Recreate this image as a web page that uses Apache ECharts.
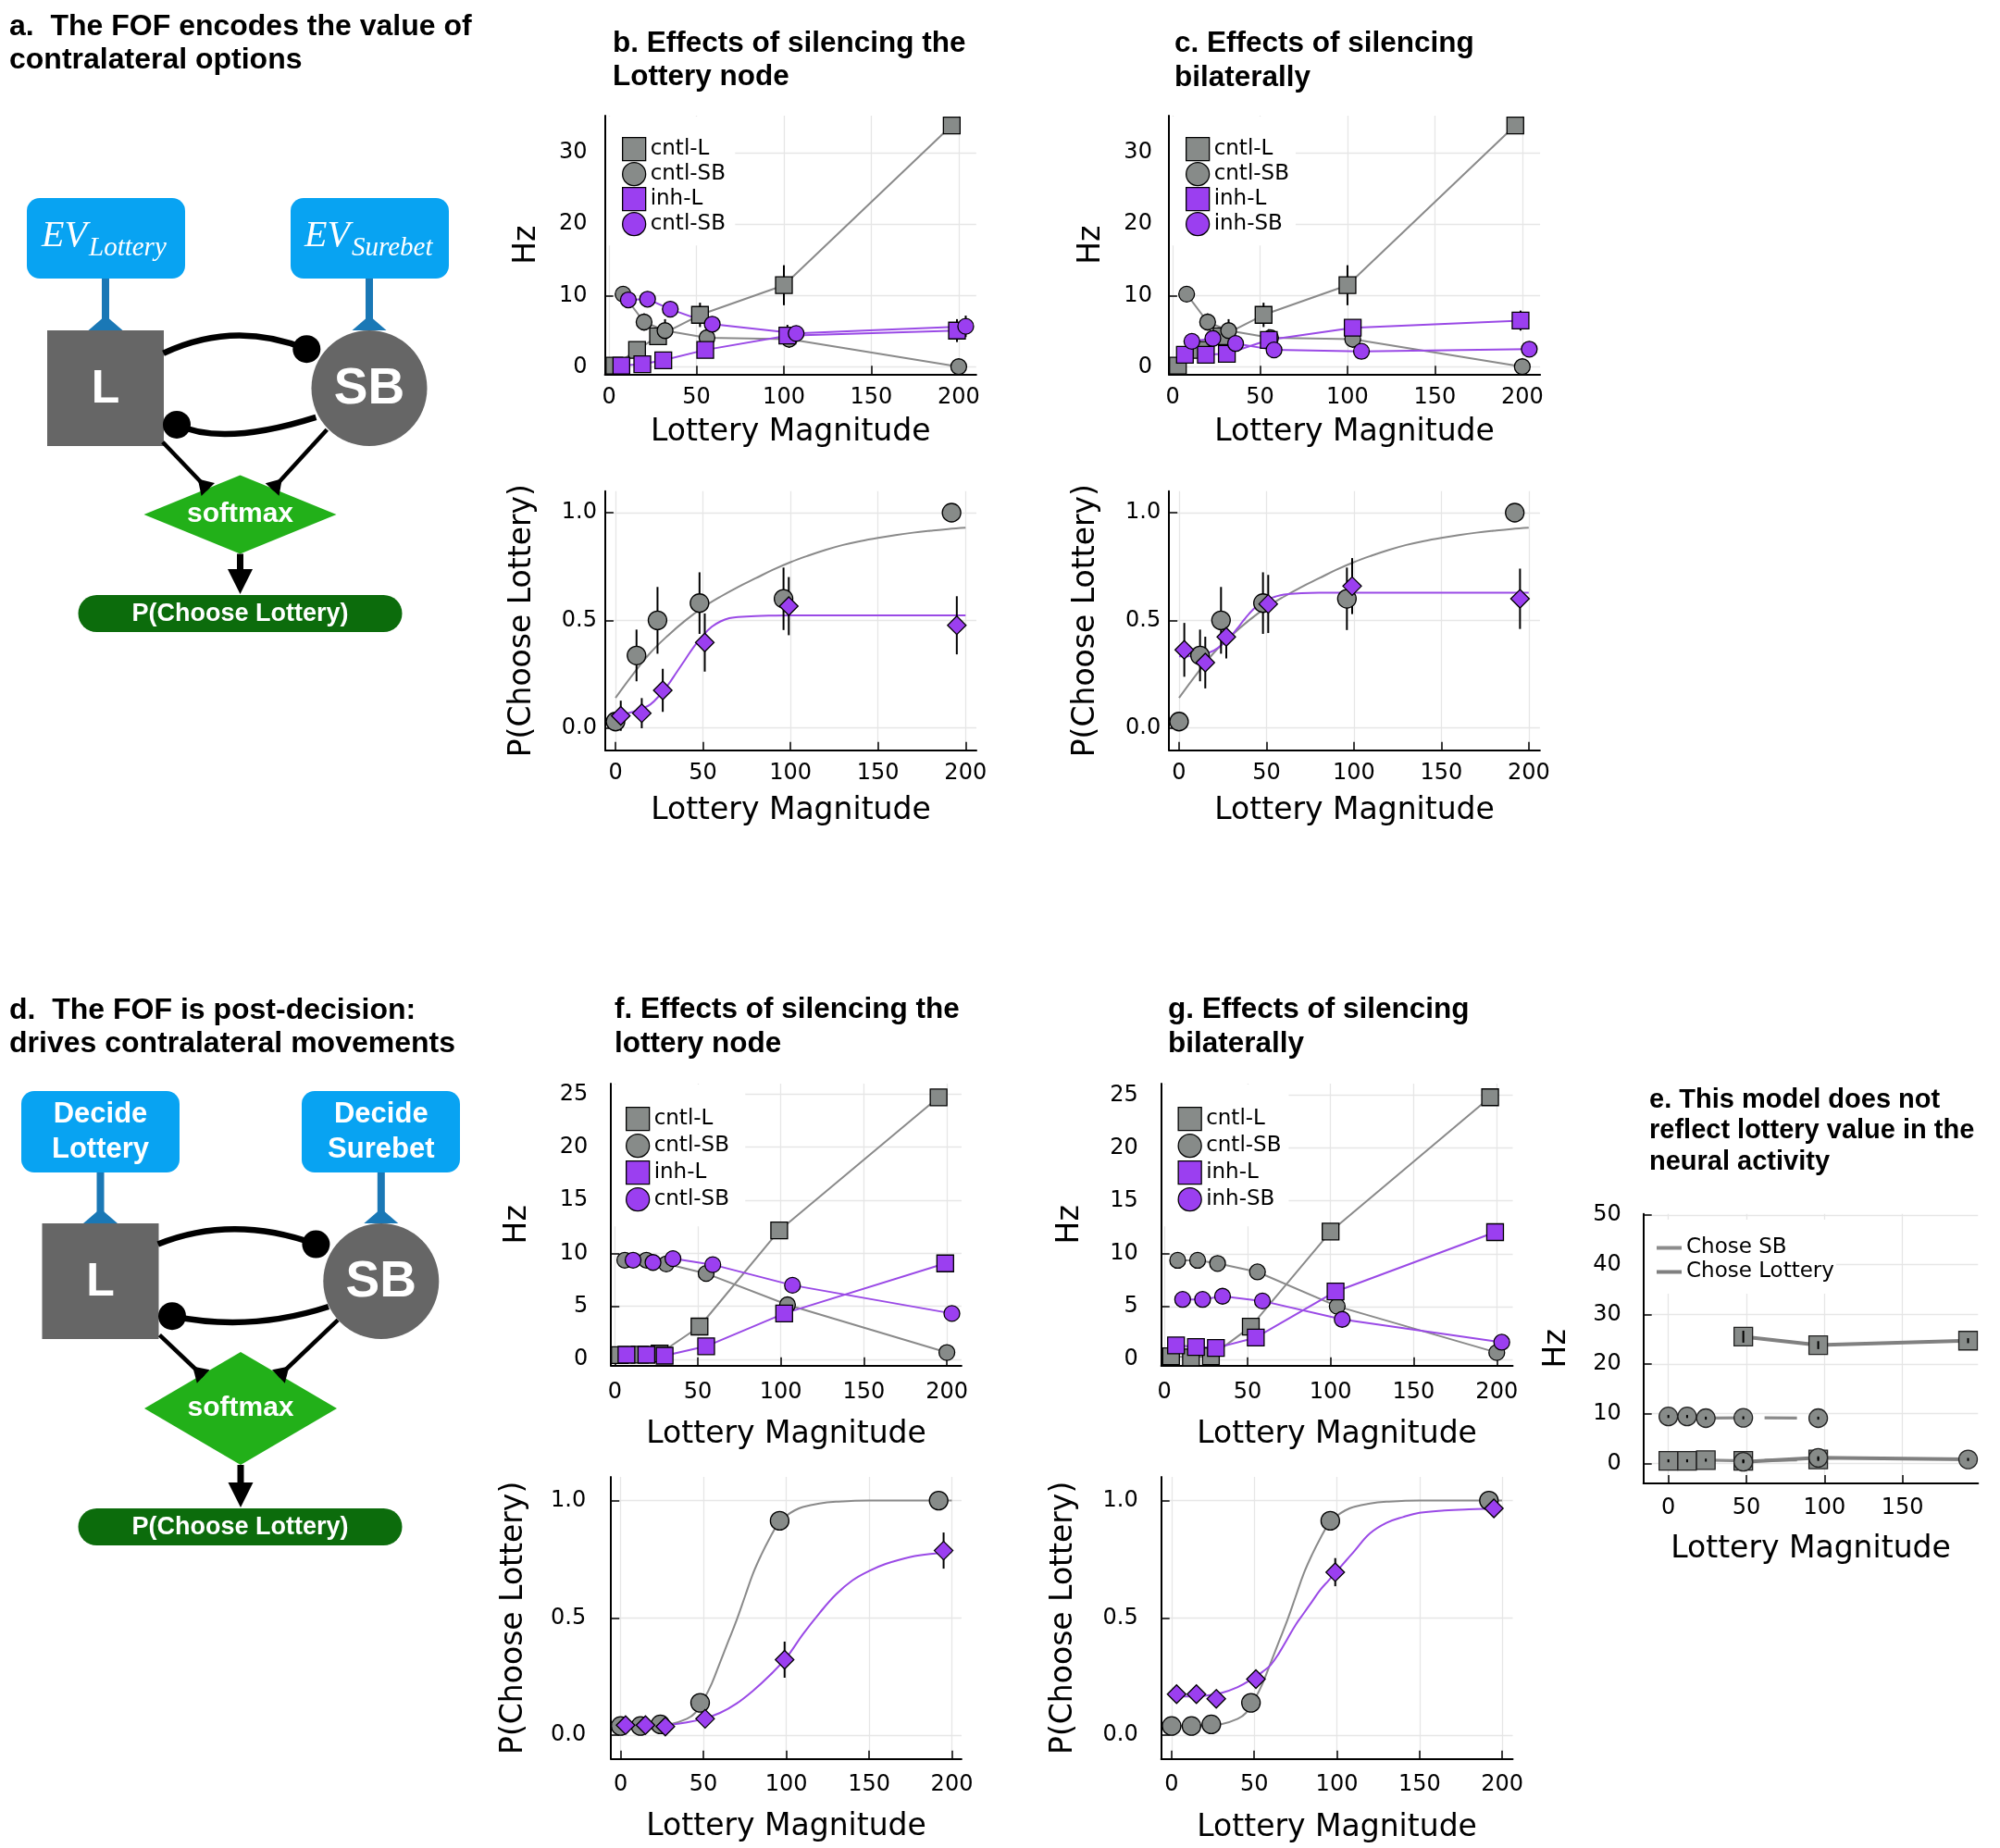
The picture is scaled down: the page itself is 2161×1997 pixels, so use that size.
<!DOCTYPE html>
<html><head><meta charset="utf-8">
<script src="https://cdn.jsdelivr.net/npm/echarts@6/dist/echarts.min.js"></script>
<style>html,body{margin:0;padding:0;background:#fff}#c{width:2161px;height:1997px}</style>
</head><body><div id="c"></div>
<script>
// ================= DATA =================
// tick labels
const hzTicksB = [0, 10, 20, 30];
const hzTicksF = [0, 5, 10, 15, 20, 25];
const hzTicksE = [0, 10, 20, 30, 40, 50];
const pTicks = [0, 0.5, 1.0];
const magTicks = [0, 50, 100, 150, 200];
const magTicksE = [0, 50, 100, 150];

// Panel b / c (top): firing rates, control (shared by b and c)
const b_cntlL_x = [3, 16, 28, 52, 100, 196];
const b_cntlL_y = [0.2, 2.4, 4.3, 7.3, 11.45, 33.8];
const b_cntlL_e = [0.3, 0.5, 0.6, 1.7, 2.8, 0.5];
const b_cntlSB_x = [8, 20, 32, 56, 103, 200];
const b_cntlSB_y = [10.2, 6.3, 5.1, 4.1, 3.9, 0.05];
const b_cntlSB_e = [0.3, 1.2, 1.6, 0.8, 1.2, 0.2];
// Panel b: silencing the Lottery node
const b_inhL_x = [7, 19, 31, 55, 102, 199];
const b_inhL_y = [0.2, 0.4, 0.95, 2.4, 4.4, 5.1];
const b_inhL_e = [0.2, 0.3, 0.4, 0.6, 1.5, 1.6];
const b_inhSB_x = [11, 22, 35, 59, 107, 204];
const b_inhSB_y = [9.4, 9.5, 8.1, 6.0, 4.7, 5.7];
const b_inhSB_e = [0.4, 0.5, 0.5, 1.0, 1.0, 1.5];
// Panel c: bilateral silencing
const c_inhL_x = [7, 19, 31, 55, 103, 199];
const c_inhL_y = [1.73, 1.73, 1.86, 3.8, 5.5, 6.5];
const c_inhL_e = [0.3, 0.3, 0.4, 1.5, 0.8, 1.4];
const c_inhSB_x = [11, 23, 36, 58, 108, 204];
const c_inhSB_y = [3.6, 4.0, 3.3, 2.4, 2.2, 2.5];
const c_inhSB_e = [0.3, 0.3, 0.4, 1.0, 0.4, 0.4];

// Panel b / c (bottom): P(Choose Lottery)
const pb_cntl_x = [0, 12, 24, 48, 96, 192];
const pb_cntl_y = [0.03, 0.337, 0.5, 0.58, 0.60, 1.0];
const pb_cntl_e = [0.03, 0.12, 0.155, 0.143, 0.145, 0];
const pb_inh_x = [3, 15, 27, 51, 99, 195];
const pb_inh_y = [0.057, 0.069, 0.175, 0.397, 0.566, 0.477];
const pb_inh_e = [0.07, 0.07, 0.1, 0.135, 0.135, 0.135];
const pc_inh_y = [0.363, 0.304, 0.423, 0.576, 0.659, 0.60];
const pc_inh_e = [0.125, 0.12, 0.10, 0.135, 0.13, 0.14];
// fitted curves
const fitB_cntl_x = [0, 10, 20, 30, 40, 50, 60, 70, 80, 90, 100, 110, 120, 130, 140, 150, 160, 170, 180, 190, 200];
const fitB_cntl_y = [0.14, 0.25, 0.35, 0.43, 0.50, 0.56, 0.61, 0.655, 0.695, 0.735, 0.77, 0.80, 0.827, 0.85, 0.868, 0.883, 0.896, 0.907, 0.916, 0.924, 0.93];
const fitB_inh_x = [0, 5, 10, 15, 20, 25, 30, 35, 40, 45, 50, 55, 60, 65, 70, 80, 90, 100, 150, 200];
const fitB_inh_y = [0.05, 0.065, 0.075, 0.09, 0.11, 0.15, 0.20, 0.26, 0.32, 0.38, 0.43, 0.47, 0.495, 0.51, 0.515, 0.52, 0.522, 0.523, 0.523, 0.523];
const fitC_inh_x = [0, 5, 10, 15, 20, 25, 30, 35, 40, 45, 50, 55, 60, 70, 80, 100, 150, 200];
const fitC_inh_y = [0.333, 0.333, 0.337, 0.345, 0.36, 0.39, 0.43, 0.48, 0.53, 0.57, 0.595, 0.61, 0.62, 0.626, 0.628, 0.628, 0.628, 0.628];

// Panel f (top): silencing lottery node, post-decision model
const f_cntlL_x = [3, 15, 27, 51, 99, 195];
const f_cntlL_y = [0.4, 0.45, 0.55, 3.1, 12.15, 24.7];
const f_cntlSB_x = [6, 19, 31, 55, 104, 200];
const f_cntlSB_y = [9.35, 9.35, 9.0, 8.1, 5.15, 0.65];
const f_inhL_x = [7, 19, 30, 55, 102, 199];
const f_inhL_y = [0.44, 0.44, 0.35, 1.24, 4.33, 9.05];
const f_inhSB_x = [11, 23, 35, 59, 107, 203];
const f_inhSB_y = [9.35, 9.14, 9.5, 8.93, 6.99, 4.33];
// Panel g (top): bilateral
const g_cntlL_x = [4, 16, 28, 52, 100, 196];
const g_cntlL_y = [0.3, 0.2, 0.3, 3.1, 12.1, 24.8];
const g_cntlSB_x = [8, 20, 32, 56, 104, 200];
const g_cntlSB_y = [9.38, 9.38, 9.08, 8.28, 5.03, 0.65];
const g_inhL_x = [7, 19, 31, 55, 103, 199];
const g_inhL_y = [1.33, 1.18, 1.09, 2.07, 6.42, 12.04];
const g_inhSB_x = [11, 23, 35, 59, 107, 203];
const g_inhSB_y = [5.68, 5.68, 5.98, 5.53, 3.79, 1.63];

// Panel f / g (bottom)
const pf_cntl_x = [0, 12, 24, 48, 96, 192];
const pf_cntl_y = [0.039, 0.039, 0.046, 0.138, 0.914, 1.0];
const pf_inh_x = [3, 15, 27, 51, 99, 195];
const pf_inh_y = [0.043, 0.043, 0.037, 0.07, 0.322, 0.787];
const pf_inh_e = [0, 0, 0, 0, 0.077, 0.077];
const pg_inh_y = [0.175, 0.175, 0.155, 0.239, 0.695, 0.967];
const pg_inh_e = [0, 0, 0, 0, 0.06, 0.01];
const fitF_cntl_x = [0, 10, 20, 30, 40, 45, 50, 55, 60, 65, 70, 75, 80, 85, 90, 95, 100, 105, 110, 120, 130, 150, 175, 200];
const fitF_cntl_y = [0.04, 0.04, 0.042, 0.047, 0.07, 0.095, 0.15, 0.22, 0.31, 0.40, 0.49, 0.59, 0.69, 0.77, 0.84, 0.90, 0.935, 0.958, 0.973, 0.988, 0.995, 1.0, 1.0, 1.0];
const fitF_inh_x = [0, 10, 20, 30, 40, 50, 60, 70, 80, 90, 100, 110, 120, 130, 140, 150, 160, 175, 190, 200];
const fitF_inh_y = [0.04, 0.04, 0.042, 0.045, 0.055, 0.07, 0.095, 0.135, 0.19, 0.255, 0.33, 0.43, 0.52, 0.6, 0.66, 0.70, 0.73, 0.76, 0.775, 0.78];
const fitG_inh_x = [0, 10, 20, 30, 40, 50, 55, 60, 65, 70, 75, 80, 85, 90, 95, 100, 105, 110, 120, 130, 140, 150, 165, 180, 200];
const fitG_inh_y = [0.17, 0.165, 0.168, 0.18, 0.205, 0.245, 0.27, 0.30, 0.35, 0.41, 0.47, 0.52, 0.57, 0.62, 0.66, 0.70, 0.74, 0.78, 0.86, 0.905, 0.93, 0.948, 0.958, 0.963, 0.967];

// Panel e
const e_x1 = [0, 12, 24, 48, 96];
const e_L_choseSB = [0.53, 0.53, 0.66, 0.53, 0.8];
const e_SB_choseSB = [9.44, 9.44, 9.11, 9.18, 9.11];
const e_x2 = [48, 96, 192];
const e_L_choseL = [25.5, 23.8, 24.7];
const e_L_choseL_e = [1.2, 0.8, 0.5];
const e_SB_choseL = [0.33, 1.13, 0.8];

// ================= STYLE =================
const FONT = '"DejaVu Sans", sans-serif';
const TFONT = '"Liberation Sans", Arial, sans-serif';
const GRAY_FILL = '#878b89', GRAY_LINE = '#8a8a8a';
const PURP_FILL = '#9b3ff0', PURP_LINE = '#9a4ae6';
const GRID_C = '#e6e6e6';
const NAME_FS = 33, TICK_FS = 24;

const grids = [], xAxes = [], yAxes = [], series = [], legends = [];
const pair = (xs, ys) => xs.map((x, i) => [x, ys[i]]);

function addPanel(c) {
  const gi = grids.length;
  grids.push({left: c.g[0], top: c.g[1], width: c.g[2], height: c.g[3]});
  const common = {
    type: 'value', gridIndex: gi, nameLocation: 'middle',
    nameTextStyle: {fontSize: NAME_FS, fontFamily: FONT, color: '#000'},
    axisLine: {show: true, onZero: false, lineStyle: {color: '#000', width: 2}},
    splitLine: {show: true, lineStyle: {color: GRID_C, width: 1.3}},
  };
  xAxes.push(Object.assign({}, common, {
    min: c.x[0], max: c.x[1], name: 'Lottery Magnitude', nameGap: c.xg,
    axisTick: {show: true, inside: true, length: 9, customValues: c.xt, lineStyle: {color: '#000', width: 1.5}},
    axisLabel: {show: true, customValues: c.xt, margin: c.xm, fontSize: TICK_FS, fontFamily: FONT, color: '#000'}
  }));
  yAxes.push(Object.assign({}, common, {
    min: c.y[0], max: c.y[1], name: c.yn, nameGap: c.yg,
    axisTick: {show: true, inside: true, length: 9, customValues: c.yt, lineStyle: {color: '#000', width: 1.5}},
    axisLabel: {show: true, customValues: c.yt, margin: c.ym, fontSize: TICK_FS, fontFamily: FONT, color: '#000',
      formatter: c.yf || (v => String(v))}
  }));
  return gi;
}

function errSer(gi, xs, ys, es, z) {
  const d = [];
  xs.forEach((x, i) => { if (es[i] > 0) d.push([x, ys[i] - es[i], ys[i] + es[i]]); });
  return {
    type: 'custom', xAxisIndex: gi, yAxisIndex: gi, z: z || 1, silent: true, animation: false,
    data: d, encode: {x: 0, y: [1, 2]},
    renderItem: (params, api) => {
      const p1 = api.coord([api.value(0), api.value(1)]);
      const p2 = api.coord([api.value(0), api.value(2)]);
      return {type: 'line', shape: {x1: p1[0], y1: p1[1], x2: p2[0], y2: p2[1]},
        style: {stroke: '#000', lineWidth: 2}};
    }
  };
}
function lineSer(name, gi, xs, ys, sym, size, fill, lc, extra) {
  return Object.assign({
    type: 'line', name, xAxisIndex: gi, yAxisIndex: gi, data: pair(xs, ys),
    symbol: sym, symbolSize: size, showAllSymbol: true, animation: false, z: 2,
    emphasis: {disabled: true}, silent: true,
    itemStyle: {color: fill, borderColor: '#000', borderWidth: 1.3},
    lineStyle: {color: lc, width: 2}
  }, extra || {});
}
function fitSer(gi, xs, ys, lc) {
  return {type: 'line', xAxisIndex: gi, yAxisIndex: gi, data: pair(xs, ys), smooth: 0.4,
    symbol: 'none', animation: false, silent: true, z: 2, lineStyle: {color: lc, width: 2}};
}
function ptSer(gi, xs, ys, sym, size, fill) {
  return {type: 'scatter', xAxisIndex: gi, yAxisIndex: gi, data: pair(xs, ys), symbol: sym,
    symbolSize: size, animation: false, silent: true, z: 4,
    itemStyle: {color: fill, borderColor: '#000', borderWidth: 1.3, opacity: 1}};
}
function legItem(name, icon, fill) {
  return {name, icon, itemStyle: {color: fill, borderColor: '#000', borderWidth: 1.3}};
}
function addLegend(left, top, padding, gap, items) {
  legends.push({orient: 'vertical', left, top, padding, itemGap: gap, itemWidth: 25, itemHeight: 25,
    backgroundColor: '#fff', selectedMode: false, align: 'left', z: 5,
    textStyle: {fontSize: 23, fontFamily: FONT, color: '#000'}, data: items});
}
const pFmt = v => v.toFixed(1);

// ---------- Hz panels ----------
function hzPanel(g, x, y, yt, yn, xg, yg, xm, ym, sets, legPos) {
  const gi = addPanel({g, x, y, xt: magTicks, yt, yn, xg, yg, xm, ym});
  sets.forEach(s => { if (s.e) series.push(errSer(gi, s.x, s.y, s.e, 1)); });
  sets.forEach(s => series.push(lineSer(s.name, gi, s.x, s.y, s.sym, s.sym === 'rect' ? 18 : 17, s.fill, s.lc)));
  addLegend(legPos[0], legPos[1], legPos[2], legPos[3], sets.map(s => legItem(s.name, s.sym, s.fill)));
}
const cL = (x, y, e) => ({name: 'cntl-L', x, y, e, sym: 'rect', fill: GRAY_FILL, lc: GRAY_LINE});
const cSB = (x, y, e) => ({name: 'cntl-SB', x, y, e, sym: 'circle', fill: GRAY_FILL, lc: GRAY_LINE});
const iL = (x, y, e) => ({name: 'inh-L', x, y, e, sym: 'rect', fill: PURP_FILL, lc: PURP_LINE});
const iSB = (name, x, y, e) => ({name, x, y, e, sym: 'circle', fill: PURP_FILL, lc: PURP_LINE});

// b top
hzPanel([653.6, 125, 401.2, 279.3], [-2.4, 210], [-0.99, 35.17], hzTicksB, 'Hz', 47, 68, 13, 19,
  [cL(b_cntlL_x, b_cntlL_y, b_cntlL_e), cSB(b_cntlSB_x, b_cntlSB_y, b_cntlSB_e),
   iL(b_inhL_x, b_inhL_y, b_inhL_e), iSB('cntl-SB\u00a0', b_inhSB_x, b_inhSB_y, b_inhSB_e)],
  [655, 126, [22, 3, 10, 17], 0.7]);
// b bottom
(function () {
  const gi = addPanel({g: [653.9, 530.7, 401.1, 280], x: [-5.9, 206.2], y: [-0.103, 1.1], xt: magTicks, yt: pTicks,
    yn: 'P(Choose Lottery)', xg: 49, yg: 73, xm: 13, ym: 9, yf: pFmt});
  series.push(fitSer(gi, fitB_cntl_x, fitB_cntl_y, GRAY_LINE), fitSer(gi, fitB_inh_x, fitB_inh_y, PURP_LINE));
  series.push(errSer(gi, pb_cntl_x, pb_cntl_y, pb_cntl_e, 3), errSer(gi, pb_inh_x, pb_inh_y, pb_inh_e, 3));
  series.push(ptSer(gi, pb_cntl_x, pb_cntl_y, 'circle', 20, GRAY_FILL), ptSer(gi, pb_inh_x, pb_inh_y, 'diamond', 20, PURP_FILL));
})();
// c top
hzPanel([1262.9, 125, 401.2, 279.3], [-2.2, 210.2], [-0.99, 35.17], hzTicksB, 'Hz', 47, 67, 13, 18,
  [cL(b_cntlL_x, b_cntlL_y, b_cntlL_e), cSB(b_cntlSB_x, b_cntlSB_y, b_cntlSB_e),
   iL(c_inhL_x, c_inhL_y, c_inhL_e), iSB('inh-SB', c_inhSB_x, c_inhSB_y, c_inhSB_e)],
  [1264, 126, [22, 7, 10, 17], 0.7]);
// c bottom
(function () {
  const gi = addPanel({g: [1263.2, 530.7, 400.7, 280], x: [-5.7, 206.4], y: [-0.103, 1.1], xt: magTicks, yt: pTicks,
    yn: 'P(Choose Lottery)', xg: 49, yg: 73, xm: 13, ym: 9, yf: pFmt});
  series.push(fitSer(gi, fitB_cntl_x, fitB_cntl_y, GRAY_LINE), fitSer(gi, fitC_inh_x, fitC_inh_y, PURP_LINE));
  series.push(errSer(gi, pb_cntl_x, pb_cntl_y, pb_cntl_e, 3), errSer(gi, pb_inh_x, pc_inh_y, pc_inh_e, 3));
  series.push(ptSer(gi, pb_cntl_x, pb_cntl_y, 'circle', 20, GRAY_FILL), ptSer(gi, pb_inh_x, pc_inh_y, 'diamond', 20, PURP_FILL));
})();
// f top
hzPanel([660.2, 1170.9, 378.7, 304.9], [-2.3, 208.8], [-0.59, 26.0], hzTicksF, 'Hz', 58, 84, 17, 25,
  [cL(f_cntlL_x, f_cntlL_y), cSB(f_cntlSB_x, f_cntlSB_y), iL(f_inhL_x, f_inhL_y), iSB('cntl-SB\u00a0', f_inhSB_x, f_inhSB_y)],
  [661, 1172, [24, 10, 16, 15], 2.7]);
// f bottom
(function () {
  const gi = addPanel({g: [660.2, 1596, 378.7, 304.7], x: [-5.8, 205.8], y: [-0.101, 1.101], xt: magTicks, yt: pTicks,
    yn: 'P(Choose Lottery)', xg: 57, yg: 88, xm: 16, ym: 27, yf: pFmt});
  series.push(fitSer(gi, fitF_cntl_x, fitF_cntl_y, GRAY_LINE), fitSer(gi, fitF_inh_x, fitF_inh_y, PURP_LINE));
  series.push(errSer(gi, pf_inh_x, pf_inh_y, pf_inh_e, 3));
  series.push(ptSer(gi, pf_cntl_x, pf_cntl_y, 'circle', 20, GRAY_FILL), ptSer(gi, pf_inh_x, pf_inh_y, 'diamond', 20, PURP_FILL));
})();
// g top
hzPanel([1254.7, 1170.9, 379.8, 304.9], [-1.9, 209.6], [-0.59, 26.1], hzTicksF, 'Hz', 58, 82, 17, 25,
  [cL(g_cntlL_x, g_cntlL_y), cSB(g_cntlSB_x, g_cntlSB_y), iL(g_inhL_x, g_inhL_y), iSB('inh-SB', g_inhSB_x, g_inhSB_y)],
  [1256, 1172, [24, 8, 16, 16.5], 2.7]);
// g bottom
(function () {
  const gi = addPanel({g: [1254.7, 1596, 379.8, 304.7], x: [-6.3, 206.4], y: [-0.101, 1.101], xt: magTicks, yt: pTicks,
    yn: 'P(Choose Lottery)', xg: 58, yg: 89, xm: 16, ym: 25, yf: pFmt});
  series.push(fitSer(gi, fitF_cntl_x, fitF_cntl_y, GRAY_LINE), fitSer(gi, fitG_inh_x, fitG_inh_y, PURP_LINE));
  series.push(errSer(gi, pf_inh_x, pg_inh_y, pg_inh_e, 3));
  series.push(ptSer(gi, pf_cntl_x, pf_cntl_y, 'circle', 20, GRAY_FILL), ptSer(gi, pf_inh_x, pg_inh_y, 'diamond', 20, PURP_FILL));
})();
// e
(function () {
  const gi = addPanel({g: [1775.7, 1311.8, 361.6, 291.1], x: [-16, 198.4], y: [-4, 50.2], xt: magTicksE, yt: hzTicksE,
    yn: 'Hz', xg: 55, yg: 77, xm: 15, ym: 24});
  const dashed = {color: '#8a8a8a', width: 3.2, type: [35, 23], dashOffset: 12};
  const solid = {color: '#808080', width: 4};
  const eStyle = {color: GRAY_FILL, borderColor: '#222', borderWidth: 1.3};
  series.push(lineSer('Chose SB', gi, e_x1, e_L_choseSB, 'rect', 20, GRAY_FILL, '#8a8a8a', {lineStyle: dashed, itemStyle: eStyle}));
  series.push(lineSer('Chose Lottery', gi, e_x2, e_L_choseL, 'rect', 20, GRAY_FILL, '#808080', {lineStyle: solid, itemStyle: eStyle}));
  series.push(lineSer('Chose SB', gi, e_x1, e_SB_choseSB, 'circle', 20, GRAY_FILL, '#8a8a8a', {lineStyle: dashed, itemStyle: eStyle}));
  series.push(lineSer('Chose Lottery', gi, e_x2, e_SB_choseL, 'circle', 20, GRAY_FILL, '#808080', {lineStyle: solid, itemStyle: eStyle}));
  series.push(errSer(gi, e_x2, e_L_choseL, e_L_choseL_e, 6));
  series.push(errSer(gi, e_x1, e_SB_choseSB, e_x1.map(() => 0.3), 6));
  series.push(errSer(gi, e_x1, e_L_choseSB, e_x1.map(() => 0.3), 6));
  series.push(errSer(gi, e_x2, e_SB_choseL, e_x2.map(() => 0.3), 6));
  legends.push({orient: 'vertical', left: 1777, top: 1318, padding: [19, 2, 12, 13], itemGap: 3,
    itemWidth: 27, itemHeight: 4, backgroundColor: '#fff', selectedMode: false, align: 'left', z: 5,
    textStyle: {fontSize: 23, fontFamily: FONT, color: '#000'},
    data: [{name: 'Chose SB', icon: 'rect', itemStyle: {color: '#8c8c8c', borderWidth: 0}},
           {name: 'Chose Lottery', icon: 'rect', itemStyle: {color: '#7f7f7f', borderWidth: 0}}]});
})();

// ================= DIAGRAMS & TITLES =================
const G = [];
function txt(x, y, text, font, fill, align) {
  G.push({type: 'text', x, y, z: 50, silent: true,
    style: {text, font, fill: fill || '#000', textAlign: align || 'left', textVerticalAlign: 'middle'}});
}
function flare(x1, y1, x2, y2, w, h, color) {
  const dx = x2 - x1, dy = y2 - y1, L = Math.hypot(dx, dy), ux = dx / L, uy = dy / L, px = -uy, py = ux;
  G.push({type: 'polygon', z: 50, silent: true, shape: {points: [[x2 + px * w / 2, y2 + py * w / 2], [x2 - px * w / 2, y2 - py * w / 2], [x2 - ux * h, y2 - uy * h]]}, style: {fill: color}});
}
function seg(x1, y1, x2, y2, w, color) {
  G.push({type: 'line', z: 50, silent: true, shape: {x1, y1, x2, y2}, style: {stroke: color, lineWidth: w}});
}
const TB = s => 'bold ' + s + 'px ' + TFONT;
const BLUE = '#08a3f2', DBLUE = '#1a78b6', NODE = '#666666', GREEN = '#22b019', DGREEN = '#0c6c0c';

function diagram(d) {
  G.push({type: 'rect', z: 49, silent: true, shape: {x: d.bx[0], y: d.by, width: d.bw, height: d.bh, r: 14}, style: {fill: BLUE}});
  G.push({type: 'rect', z: 49, silent: true, shape: {x: d.bx[1], y: d.by, width: d.bw, height: d.bh, r: 14}, style: {fill: BLUE}});
  seg(d.Lx, d.by + d.bh, d.Lx, d.nodeTop - 6, 8, DBLUE);
  seg(d.Sx, d.by + d.bh, d.Sx, d.nodeTop - 6, 8, DBLUE);
  flare(d.Lx, d.by + d.bh, d.Lx, d.nodeTop, 37, 16, DBLUE);
  flare(d.Sx, d.by + d.bh, d.Sx, d.nodeTop, 37, 16, DBLUE);
  G.push({type: 'rect', z: 49, silent: true, shape: {x: d.Lx - 63, y: d.nodeTop, width: 126, height: 125}, style: {fill: NODE}});
  G.push({type: 'circle', z: 49, silent: true, shape: {cx: d.Sx, cy: d.nodeTop + 62.5, r: 62.5}, style: {fill: NODE}});
  txt(d.Lx, d.nodeTop + 64, 'L', TB(50), '#fff', 'center');
  txt(d.Sx, d.nodeTop + 64, 'SB', TB(55), '#fff', 'center');
  G.push({type: 'bezierCurve', z: 50, silent: true, shape: d.arc1, style: {stroke: '#000', lineWidth: 6.5, fill: null}});
  G.push({type: 'circle', z: 50, silent: true, shape: {cx: d.arc1.x2, cy: d.arc1.y2, r: 15}, style: {fill: '#000'}});
  G.push({type: 'bezierCurve', z: 50, silent: true, shape: d.arc2, style: {stroke: '#000', lineWidth: 6.5, fill: null}});
  G.push({type: 'circle', z: 50, silent: true, shape: {cx: d.arc2.x2, cy: d.arc2.y2, r: 15}, style: {fill: '#000'}});
  d.arrows.forEach(a => { seg(a[0], a[1], a[2], a[3], 4.5, '#000'); flare(a[0], a[1], a[2], a[3], 20, 16, '#000'); });
  const cx = d.dc[0], cy = d.dc[1];
  G.push({type: 'polygon', z: 49, silent: true, shape: {points: [[cx - 104, cy], [cx, cy - d.dh], [cx + 104, cy], [cx, cy + d.dh]]}, style: {fill: GREEN}});
  txt(cx, cy, 'softmax', TB(30), '#fff', 'center');
  seg(cx, cy + d.dh, cx, d.pillTop - 24, 7, '#000');
  G.push({type: 'polygon', z: 50, silent: true, shape: {points: [[cx - 13.5, d.pillTop - 28], [cx + 13.5, d.pillTop - 28], [cx, d.pillTop - 1]]}, style: {fill: '#000'}});
  G.push({type: 'rect', z: 49, silent: true, shape: {x: 84.5, y: d.pillTop, width: 350, height: 40, r: 20}, style: {fill: DGREEN}});
  txt(259.5, d.pillTop + 20.5, 'P(Choose Lottery)', TB(27), '#fff', 'center');
}

// panel a
diagram({bx: [29, 314], by: 214, bw: 171, bh: 87, Lx: 114, Sx: 399, nodeTop: 357,
  arc1: {x1: 176.5, y1: 381.7, cpx1: 253.3, cpy1: 345.6, x2: 331.3, y2: 377.2},
  arc2: {x1: 341.4, y1: 450.9, cpx1: 240.8, cpy1: 482.7, x2: 191, y2: 458.9},
  arrows: [[175.8, 477.7, 224.8, 529], [353.3, 464.3, 294.1, 529]],
  dc: [259.5, 556], dh: 42.5, pillTop: 643});
txt(45, 255, 'EV', 'italic 40px "Liberation Serif", serif', '#fff');
txt(96, 268, 'Lottery', 'italic 29px "Liberation Serif", serif', '#fff');
txt(329, 255, 'EV', 'italic 40px "Liberation Serif", serif', '#fff');
txt(380, 268, 'Surebet', 'italic 29px "Liberation Serif", serif', '#fff');

// panel d
diagram({bx: [23, 326], by: 1179, bw: 171, bh: 88, Lx: 108.5, Sx: 411.8, nodeTop: 1322,
  arc1: {x1: 170.7, y1: 1344.6, cpx1: 251, cpy1: 1312, x2: 341.4, y2: 1344.6},
  arc2: {x1: 355, y1: 1412, cpx1: 270.5, cpy1: 1439.5, x2: 186, y2: 1422.2},
  arrows: [[172.4, 1442.6, 219.7, 1487.5], [365.1, 1426.3, 300.9, 1487.5]],
  dc: [260, 1522], dh: 61, pillTop: 1630});
txt(108.5, 1204, 'Decide', TB(31), '#fff', 'center');
txt(108.5, 1242, 'Lottery', TB(31), '#fff', 'center');
txt(411.8, 1204, 'Decide', TB(31), '#fff', 'center');
txt(411.8, 1242, 'Surebet', TB(31), '#fff', 'center');

// titles
txt(10, 29, 'a.  The FOF encodes the value of', TB(32));
txt(10, 65, 'contralateral options', TB(32));
txt(662, 47, 'b. Effects of silencing the', TB(31.5));
txt(662, 83, 'Lottery node', TB(31.5));
txt(1269, 47, 'c. Effects of silencing', TB(31.5));
txt(1269, 84, 'bilaterally', TB(31.5));
txt(10, 1092, 'd.  The FOF is post-decision:', TB(32));
txt(10, 1128, 'drives contralateral movements', TB(32));
txt(664, 1091, 'f. Effects of silencing the', TB(31.5));
txt(664, 1128, 'lottery node', TB(31.5));
txt(1262, 1091, 'g. Effects of silencing', TB(31.5));
txt(1262, 1128, 'bilaterally', TB(31.5));
txt(1782, 1189, 'e. This model does not', TB(29));
txt(1782, 1222, 'reflect lottery value in the', TB(29));
txt(1782, 1256, 'neural activity', TB(29));

const chart = echarts.init(document.getElementById('c'), null, {renderer: 'canvas', width: 2161, height: 1997});
chart.setOption({
  backgroundColor: '#ffffff', animation: false,
  grid: grids, xAxis: xAxes, yAxis: yAxes, legend: legends, series, graphic: {elements: G}
});
</script></body></html>
